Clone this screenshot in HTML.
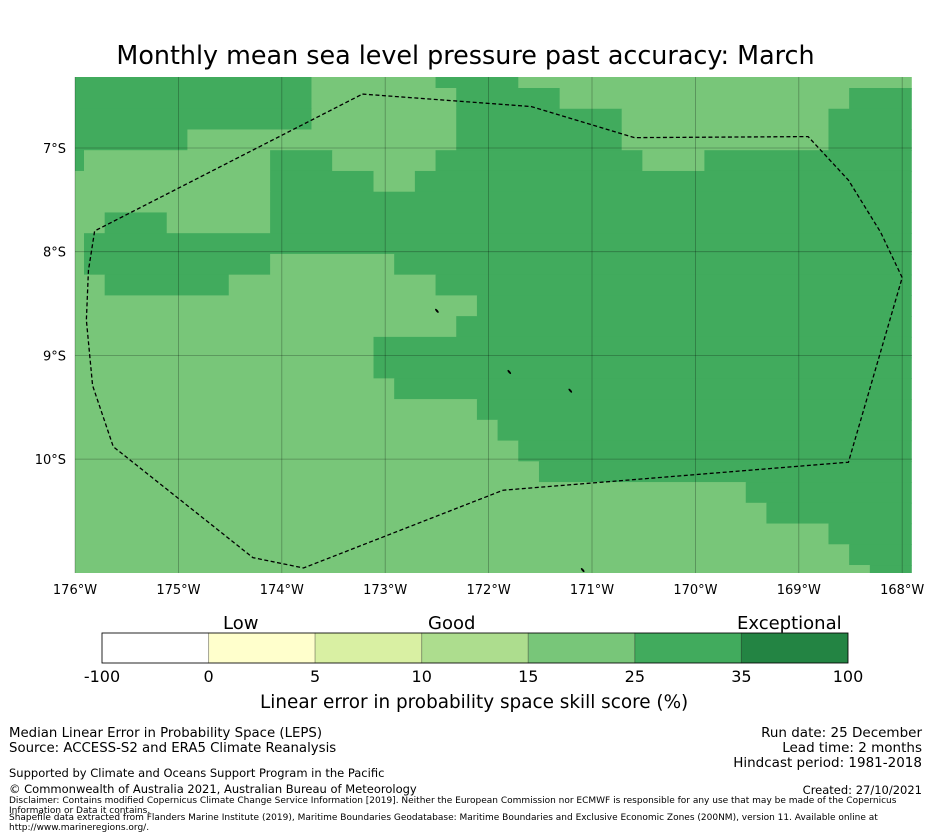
<!DOCTYPE html>
<html><head><meta charset="utf-8"><style>
body{margin:0;background:#fff;font-family:"DejaVu Sans","Liberation Sans",sans-serif;}
#wrap{position:relative;width:931px;height:839px;overflow:hidden;}
.t{position:absolute;white-space:nowrap;color:#000;}
</style></head><body>
<div id="wrap">
<div class="t" style="left:0;width:931px;text-align:center;top:40px;font-size:25.4px;">Monthly mean sea level pressure past accuracy: March</div>
<svg id="map" width="931" height="720" style="position:absolute;left:0;top:0" font-family="DejaVu Sans, Liberation Sans, sans-serif"></svg>
<div class="t" style="left:223px;top:613px;font-size:18px;">Low</div>
<div class="t" style="left:428px;top:613px;font-size:18px;">Good</div>
<div class="t" style="left:737px;top:613px;font-size:18px;">Exceptional</div>
<div class="t" style="left:260px;top:692px;font-size:18.4px;">Linear error in probability space skill score (%)</div>
<div class="t" style="left:9px;top:726px;font-size:13.3px;line-height:15px;">Median Linear Error in Probability Space (LEPS)<br>Source: ACCESS-S2 and ERA5 Climate Reanalysis</div>
<div class="t" style="right:9px;top:726px;font-size:13.5px;line-height:15px;text-align:right;">Run date: 25 December<br>Lead time: 2 months<br>Hindcast period: 1981-2018</div>
<div class="t" style="left:9px;top:766px;font-size:11.5px;">Supported by Climate and Oceans Support Program in the Pacific</div>
<div class="t" style="left:9px;top:782px;font-size:11.5px;">© Commonwealth of Australia 2021, Australian Bureau of Meteorology</div>
<div class="t" style="right:9px;top:783px;font-size:11.5px;">Created: 27/10/2021</div>
<div class="t" style="left:9px;top:796px;font-size:9px;line-height:10px;white-space:normal;width:915px;">Disclaimer: Contains modified Copernicus Climate Change Service Information [2019]. Neither the European Commission nor ECMWF is responsible for any use that may be made of the Copernicus Information or Data it contains.</div>
<div class="t" style="left:9px;top:813px;font-size:9px;line-height:10px;white-space:normal;width:915px;">Shapefile data extracted from Flanders Marine Institute (2019), Maritime Boundaries Geodatabase: Maritime Boundaries and Exclusive Economic Zones (200NM), version 11. Available online at http://www.marineregions.org/.</div>
</div>
<script>
const lonTicks=[-176,-175,-174,-173,-172,-171,-170,-169,-168];
const lonLabels=["176°W","175°W","174°W","173°W","172°W","171°W","170°W","169°W","168°W"];
const latTicks=[-7,-8,-9,-10];
const latLabels=["7°S","8°S","9°S","10°S"];
const cellRows=["D12 L6 D4 L19","D12 L7 D5 L14 D3","D12 L7 D8 L10 D4","D6 L13 D8 L10 D4","D1 L9 D3 L5 D10 L3 D10","L10 D5 L2 D24","L10 D31","L2 D3 L5 D31","L1 D40","L1 D9 L6 D25","L2 D6 L10 D23","L20 D21","L19 D22","L15 D26","L15 D26","L16 D25","L20 D21","L21 D20","L22 D19","L23 D18","L33 D8","L34 D7","L37 D4","L38 D3","L39 D2"];
const eezLon=[-173.22,-171.59,-170.59,-168.91,-168.52,-168.21,-168.00,-168.52,-171.86,-173.79,-174.28,-175.63,-175.83,-175.89,-175.87,-175.81];
const eezLat=[-6.48,-6.60,-6.90,-6.89,-7.31,-7.81,-8.25,-10.03,-10.30,-11.05,-10.95,-9.88,-9.29,-8.66,-8.18,-7.80];
const islandLon=[-172.50,-171.80,-171.21,-171.09];
const islandLat=[-8.57,-9.16,-9.34,-11.07];
const cbBounds=["-100","0","5","10","15","25","35","100"];
const cbColors=["#ffffff","#ffffcc","#d9f0a3","#addd8e","#78c679","#41ab5d","#238443"];

const NS="http://www.w3.org/2000/svg";
const svg=document.getElementById('map');
const X=lon=>75+(lon+176)*103.4;
const Y=lat=>148-(lat+7)*103.7;
const cellW=0.2*103.4, cellH=0.2*103.7;
const lon0=-175.913, lat0=-6.4214;
function mk(t,a){const e=document.createElementNS(NS,t);for(const k in a)e.setAttribute(k,a[k]);svg.appendChild(e);return e;}
const clip=mk('clipPath',{id:'mc'});
const cr=document.createElementNS(NS,'rect');cr.setAttribute('x',75);cr.setAttribute('y',77);cr.setAttribute('width',837);cr.setAttribute('height',496);clip.appendChild(cr);
const g=mk('g',{'clip-path':'url(#mc)'});


const colMap={L:'#78c679',D:'#41ab5d'};
cellRows.forEach((row,r)=>{
  let c=0;
  row.split(' ').forEach(run=>{
    const k=run[0],n=+run.slice(1);
    const x1=X(lon0)+(c-1)*cellW, y1=Y(lat0)+(r-1)*cellH;
    const e=document.createElementNS(NS,'rect');
    e.setAttribute('x',x1);e.setAttribute('y',y1);e.setAttribute('width',n*cellW+0.6);e.setAttribute('height',cellH+0.6);e.setAttribute('fill',colMap[k]);
    
    
    g.appendChild(e);c+=n;
  });
});
lonTicks.forEach((v,i)=>{
  const l=mk('line',{x1:X(v),x2:X(v),y1:77,y2:573,stroke:'#000','stroke-opacity':0.3,'stroke-width':0.8});
  
  
  const t=mk('text',{x:X(v),y:594,'text-anchor':'middle','font-size':13});
  t.textContent=lonLabels[i];
  
  
});
latTicks.forEach((v,i)=>{
  const l=mk('line',{x1:75,x2:912,y1:Y(v),y2:Y(v),stroke:'#000','stroke-opacity':0.3,'stroke-width':0.8});
  
  
  const t=mk('text',{x:66,y:Y(v)+5,'text-anchor':'end','font-size':13});
  t.textContent=latLabels[i];
  
  
});
const pts=eezLon.map((v,i)=>X(v)+','+Y(eezLat[i])).join(' ');
const eez=mk('polygon',{points:pts,fill:'none',stroke:'#000','stroke-width':1.3,'stroke-dasharray':'4,2.5'});


islandLon.forEach((v,i)=>{
  const e=mk('ellipse',{cx:X(v),cy:Y(islandLat[i]),rx:1,ry:2.5,fill:'#000',transform:`rotate(-40 ${X(v)} ${Y(islandLat[i])})`});
  
  
});
const cbX=102,cbW=746,cbY=633,cbH=30,seg=cbW/cbColors.length;
cbColors.forEach((c,i)=>{
  const r=mk('rect',{x:cbX+i*seg,y:cbY,width:seg,height:cbH,fill:c,stroke:'#000','stroke-opacity':0.25,'stroke-width':1});
  
  
});
const fr=mk('rect',{x:cbX,y:cbY,width:cbW,height:cbH,fill:'none',stroke:'#000','stroke-width':0.8});


cbBounds.forEach((b,i)=>{
  const t=mk('text',{x:cbX+i*seg,y:682,'text-anchor':'middle','font-size':16});
  t.textContent=b;
  
  
});
</script>
</body></html>
